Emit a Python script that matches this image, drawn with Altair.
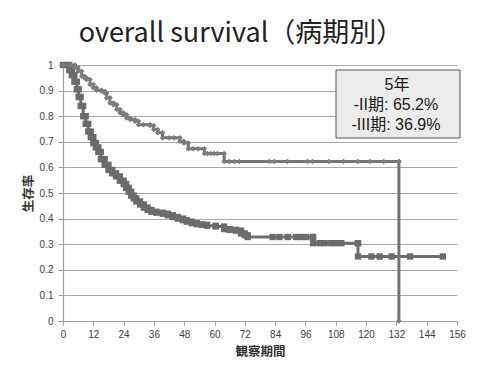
import altair as alt
import pandas as pd

TITLE = "overall survival（病期別）"
X_TITLE = "観察期間"
Y_TITLE = "生存率"
BOX_LINES = ["5年", "-II期: 65.2%", "-III期: 36.9%"]
X_TICKS = [0, 12, 24, 36, 48, 60, 72, 84, 96, 108, 120, 132, 144, 156]
Y_TICKS = [0, 0.1, 0.2, 0.3, 0.4, 0.5, 0.6, 0.7, 0.8, 0.9, 1.0]

# Stage II (months, survival)
t2 = [0, 3, 4.7, 6, 7.4, 8.5, 9.3, 10.7, 12, 13.3,
      15.3, 16.6, 17.3, 18.6, 20, 21.3, 22.6, 23.9, 25.2, 26.6,
      28.5, 29.9, 31.9, 34.5, 35.9, 37.5, 39.4, 42, 44, 46.3,
      47.8, 49.6, 51.5, 53.5, 56, 57.2, 58.5, 59.8, 61.1, 63.8,
      65.8, 67.8, 69.8, 81.7, 83.7, 88.9, 96.8, 98.8, 105.2, 111.1,
      116.7, 121.5, 127, 133, 133]
s2 = [1.0, 1.0, 0.989, 0.976, 0.956, 0.95, 0.943, 0.924, 0.911, 0.901,
      0.897, 0.891, 0.872, 0.852, 0.845, 0.826, 0.813, 0.806, 0.793, 0.787,
      0.780, 0.767, 0.767, 0.764, 0.748, 0.735, 0.716, 0.716, 0.716, 0.702,
      0.695, 0.673, 0.673, 0.673, 0.654, 0.654, 0.654, 0.654, 0.654, 0.623,
      0.623, 0.623, 0.623, 0.623, 0.623, 0.623, 0.623, 0.623, 0.623, 0.623,
      0.623, 0.623, 0.623, 0.623, 0.0]

# Stage III (months, survival)
t3 = [0, 1.5, 2.5, 3.5, 4.5, 5.5, 6.2, 7, 8, 9,
      10, 11, 12, 13, 14, 15, 16.5, 18, 19.5, 21,
      22.5, 24, 25, 26, 27, 28, 29, 30.5, 32, 33.5,
      35, 37, 39.5, 41.5, 43.5, 45.5, 47.5, 49, 51, 53,
      55, 57, 60.5, 63.8, 66, 68.5, 70.5, 72, 73.1, 83,
      85.7, 89, 92.3, 94.3, 96.3, 99, 99, 101.6, 103.6, 106.2,
      108.2, 110.2, 116.8, 116.8, 122.1, 125.4, 130.1, 137.4, 150.4]
s3 = [1.0, 1.0, 0.98, 0.96, 0.935, 0.905, 0.875, 0.84, 0.8, 0.77,
      0.74, 0.718, 0.695, 0.678, 0.66, 0.632, 0.61, 0.59, 0.577, 0.565,
      0.548, 0.535, 0.52, 0.505, 0.49, 0.479, 0.467, 0.455, 0.443, 0.434,
      0.427, 0.423, 0.419, 0.413, 0.406, 0.4, 0.394, 0.388, 0.382, 0.378,
      0.376, 0.372, 0.369, 0.359, 0.356, 0.353, 0.342, 0.335, 0.328, 0.328,
      0.328, 0.328, 0.328, 0.328, 0.328, 0.328, 0.304, 0.304, 0.304, 0.304,
      0.304, 0.304, 0.304, 0.252, 0.252, 0.252, 0.252, 0.252, 0.252]


def build(t, s):
    line_rows = [{"t": a, "s": b, "i": k} for k, (a, b) in enumerate(zip(t, s))]
    pt_rows = []
    for k, (a, b) in enumerate(zip(t, s)):
        if k > 0 and b != s[k - 1]:
            pt_rows.append({"t": a, "s": s[k - 1]})
        pt_rows.append({"t": a, "s": b})
    return pd.DataFrame(line_rows), pd.DataFrame(pt_rows)


l2, p2 = build(t2, s2)
l3, p3 = build(t3, s3)

x_enc = alt.X("t:Q", scale=alt.Scale(domain=[0, 156], nice=False),
              axis=alt.Axis(values=X_TICKS, tickCount=len(X_TICKS), title=X_TITLE, grid=False,
                            tickSize=4, labelPadding=4, titlePadding=6,
                            labelFlush=False, labelOverlap=False))
y_enc = alt.Y("s:Q", scale=alt.Scale(domain=[0, 1], nice=False),
              axis=alt.Axis(values=Y_TICKS, tickCount=len(Y_TICKS), format="~g", title=Y_TITLE,
                            grid=True, tickSize=5, labelPadding=5, titlePadding=4,
                            labelFlush=False, labelOverlap=False))

line3 = alt.Chart(l3).mark_line(interpolate="step-after", strokeWidth=3, color="#6e6e6e").encode(
    x=x_enc, y=y_enc, order="i:Q")
pts3 = alt.Chart(p3).mark_point(shape="square", filled=True, size=40, opacity=1, color="#6b6b6b").encode(
    x="t:Q", y="s:Q")
line2 = alt.Chart(l2).mark_line(interpolate="step-after", strokeWidth=3, color="#747474").encode(
    x="t:Q", y="s:Q", order="i:Q")
pts2 = alt.Chart(p2).mark_point(shape="diamond", filled=True, size=30, opacity=1, color="#7c7c7c").encode(
    x="t:Q", y="s:Q")

anno = pd.DataFrame({"k": [0]})
title = alt.Chart(anno).mark_text(text=TITLE, font="Noto Sans CJK JP", fontSize=27,
                                  color="#231f20", align="center", baseline="alphabetic").encode(
    x=alt.value(178), y=alt.value(-23))
box = alt.Chart(anno).mark_rect(fill="#ececec", stroke="#555555", strokeWidth=1).encode(
    x=alt.value(273), x2=alt.value(397), y=alt.value(5), y2=alt.value(73))
txt_font = "Liberation Sans, Noto Sans CJK JP"
box_t1 = alt.Chart(anno).mark_text(text=BOX_LINES[0], font=txt_font, fontSize=16, color="#1a1a1a",
                                   align="center", baseline="alphabetic").encode(
    x=alt.value(334), y=alt.value(25))
box_t2 = alt.Chart(anno).mark_text(text=BOX_LINES[1], font=txt_font, fontSize=16, color="#1a1a1a",
                                   align="center", baseline="alphabetic").encode(
    x=alt.value(333), y=alt.value(45))
box_t3 = alt.Chart(anno).mark_text(text=BOX_LINES[2], font=txt_font, fontSize=16, color="#1a1a1a",
                                   align="center", baseline="alphabetic").encode(
    x=alt.value(333), y=alt.value(65))

chart = alt.layer(line3, pts3, line2, pts2, box, box_t1, box_t2, box_t3, title).properties(
    width=394, height=256,
    autosize=alt.AutoSizeParams(type="none"),
    padding={"left": 55, "top": 57, "right": 30, "bottom": 50},
    background="white",
).configure_view(stroke=None).configure_axis(
    labelFont="Liberation Sans", labelFontSize=10, labelColor="#404040",
    domainColor="#a0a0a0", tickColor="#a0a0a0", domainWidth=1.2, tickWidth=1,
    gridColor="#a8a8a8", gridWidth=1.2,
    titleFont="Noto Sans CJK JP", titleFontSize=12.5, titleFontWeight="bold", titleColor="#333333",
)

chart.save("out.html", embed_options={"renderer": "svg", "actions": False})
